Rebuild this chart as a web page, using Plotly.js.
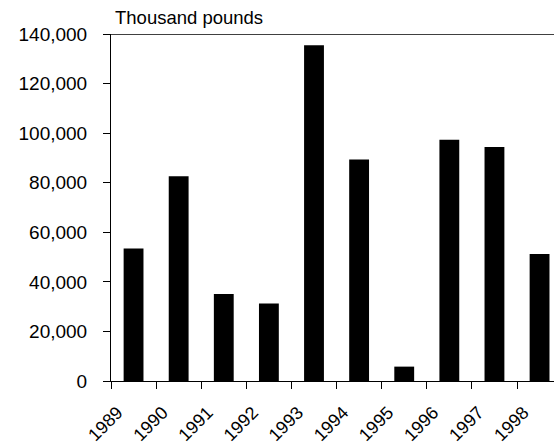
<!DOCTYPE html>
<html>
<head>
<meta charset="utf-8">
<script src="https://cdn.plot.ly/plotly-3.0.1.min.js"></script>
<style>html,body{margin:0;padding:0;background:#fff;overflow:hidden}#chart{width:554px;height:446px}</style>
</head>
<body>
<div id="chart"></div>
<script>
const years = ["1989","1990","1991","1992","1993","1994","1995","1996","1997","1998"];
const pounds = [53500, 82600, 35100, 31300, 135500, 89400, 5800, 97300, 94400, 51200];
const yTicks = [0, 20000, 40000, 60000, 80000, 100000, 120000, 140000];
const unitLabel = "Thousand pounds";

const font = "Arial, 'Liberation Sans', sans-serif";
Plotly.newPlot("chart", [{
  type: "bar",
  x: years,
  y: pounds,
  width: 0.44,
  marker: {color: "#000000", line: {width: 0}},
  hoverinfo: "x+y"
}], {
  width: 554, height: 446,
  margin: {l: 111, r: 0, t: 33.5, b: 65, pad: 0},
  paper_bgcolor: "#ffffff", plot_bgcolor: "#ffffff",
  showlegend: false,
  font: {family: font, color: "#000000", size: 19},
  xaxis: {
    type: "category",
    range: [-0.5, 9.32],
    tickson: "boundaries",
    ticks: "outside", ticklen: 7, tickwidth: 1, tickcolor: "#000",
    tickangle: -45,
    ticklabelstandoff: 13,
    ticklabelshift: -16,
    tickfont: {family: font, size: 18, color: "#000"},
    showline: true, linecolor: "#000", linewidth: 1,
    showgrid: false, zeroline: false, fixedrange: true
  },
  yaxis: {
    range: [0, 140000],
    tickmode: "array", tickvals: yTicks,
    tickformat: ",",
    ticks: "outside", ticklen: 7, tickwidth: 1, tickcolor: "#000",
    ticklabelstandoff: 12,
    tickfont: {family: font, size: 19, color: "#000"},
    showline: true, linecolor: "#000", linewidth: 1,
    showgrid: false, zeroline: false, fixedrange: true
  },
  shapes: [{
    type: "line", xref: "paper", yref: "y",
    x0: -0.016, x1: 1, y0: 140000, y1: 140000,
    line: {color: "#000", width: 1.5}
  }],
  annotations: [{
    xref: "paper", yref: "paper", x: 0.005, y: 1, xanchor: "left", yanchor: "bottom",
    yshift: 4,
    text: unitLabel, showarrow: false,
    font: {family: font, size: 18.5, color: "#000"}
  }]
}, {displayModeBar: false, staticPlot: true});
</script>
</body>
</html>
